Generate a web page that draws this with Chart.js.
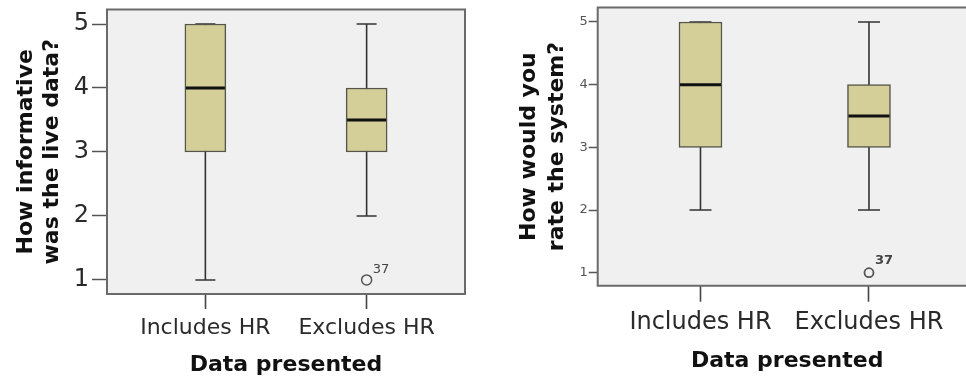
<!DOCTYPE html>
<html><head><meta charset="utf-8">
<script src="https://cdn.jsdelivr.net/npm/chart.js@4.4.1/dist/chart.umd.min.js"></script>
<style>
html,body{margin:0;padding:0;background:#fff;}
#wrap{position:relative;width:966px;height:379px;overflow:hidden;}
canvas{position:absolute;top:0;}
#c1{left:0;}
#c2{left:483px;}
</style></head><body>
<div id="wrap"><canvas id="c1" width="483" height="379"></canvas><canvas id="c2" width="500" height="379"></canvas></div>
<script>
// ---- data ----
const categories = ['Includes HR', 'Excludes HR'];
const categoryPositions = [1, 2];
const yTicks = [1, 2, 3, 4, 5];
const xTitle = 'Data presented';

// Left chart: "How informative was the live data?"
const informTitle = ['How informative', 'was the live data?'];
const informMin = [1, 2];
const informQ1 = [3, 3];
const informMedian = [4, 3.5];
const informQ3 = [5, 4];
const informMax = [5, 5];
const informOutlierCat = [2];
const informOutlierVal = [1];
const informOutlierCase = ['37'];

// Right chart: "How would you rate the system?"
const rateTitle = ['How would you', 'rate the system?'];
const rateMin = [2, 2];
const rateQ1 = [3, 3];
const rateMedian = [4, 3.5];
const rateQ3 = [5, 4];
const rateMax = [5, 5];
const rateOutlierCat = [2];
const rateOutlierVal = [1];
const rateOutlierCase = ['37'];

Chart.defaults.font.family = "'DejaVu Sans', Verdana, sans-serif";

const boxExtras = {
  id: 'boxExtras',
  beforeDraw(chart, args, o) {
    const {ctx, chartArea: a} = chart;
    ctx.save();
    ctx.fillStyle = o.plotBg;
    ctx.fillRect(a.left, a.top, a.right - a.left + (o.openRight ? 2 : 0), a.bottom - a.top);
    ctx.restore();
  },
  beforeDatasetsDraw(chart, args, o) {
    const {ctx} = chart;
    const xs = chart.scales.x, ys = chart.scales.y;
    ctx.save();
    ctx.strokeStyle = o.whiskerColor;
    ctx.lineWidth = o.whiskerWidth;
    o.positions.forEach((p, i) => {
      const x = xs.getPixelForValue(p);
      const y0 = ys.getPixelForValue(o.min[i]);
      const y1 = ys.getPixelForValue(o.max[i]);
      ctx.beginPath();
      ctx.moveTo(x, y0); ctx.lineTo(x, y1);
      ctx.moveTo(x - o.capHalf, y0); ctx.lineTo(x + o.capHalf, y0);
      ctx.moveTo(x - o.capHalf, y1); ctx.lineTo(x + o.capHalf, y1);
      ctx.stroke();
    });
    ctx.restore();
  },
  afterDatasetsDraw(chart, args, o) {
    const {ctx, chartArea: a} = chart;
    const xs = chart.scales.x, ys = chart.scales.y;
    ctx.save();
    // medians
    const meta = chart.getDatasetMeta(0);
    ctx.strokeStyle = o.medianColor;
    ctx.lineWidth = o.medianWidth;
    meta.data.forEach((bar, i) => {
      const {x, width} = bar.getProps(['x', 'width'], true);
      const y = ys.getPixelForValue(o.median[i]);
      ctx.beginPath();
      ctx.moveTo(x - width / 2 + 1, y); ctx.lineTo(x + width / 2 - 1, y);
      ctx.stroke();
    });
    // outlier case labels
    ctx.fillStyle = o.labelColor;
    ctx.font = o.labelFont;
    ctx.textAlign = 'left';
    ctx.textBaseline = 'alphabetic';
    o.outX.forEach((c, i) => {
      const x = xs.getPixelForValue(c);
      const y = ys.getPixelForValue(o.outY[i]);
      ctx.fillText(o.outLabel[i], x + o.labelDx, y - o.labelDy);
    });
    // plot frame
    ctx.strokeStyle = o.frameColor;
    ctx.lineWidth = o.frameWidth;
    ctx.beginPath();
    if (o.openRight) {
      ctx.moveTo(a.right + 2, a.top); ctx.lineTo(a.left, a.top);
      ctx.lineTo(a.left, a.bottom); ctx.lineTo(a.right + 2, a.bottom);
    } else {
      ctx.rect(a.left, a.top, a.right - a.left, a.bottom - a.top);
    }
    ctx.stroke();
    ctx.restore();
  }
};

function makeChart(id, c) {
  return new Chart(document.getElementById(id), {
    type: 'bar',
    data: {
      datasets: [
        {
          type: 'bar',
          data: categoryPositions.map((p, i) => ({x: p, y: [c.q1[i], c.q3[i]]})),
          backgroundColor: '#d4cf98',
          borderColor: '#55554a',
          borderWidth: 1.5,
          borderSkipped: false,
          barThickness: c.boxWidth,
          grouped: false
        },
        {
          type: 'scatter',
          data: c.outX.map((x, i) => ({x: x, y: c.outY[i]})),
          pointStyle: 'circle',
          pointRadius: c.outR,
          borderColor: '#555',
          backgroundColor: 'rgba(0,0,0,0)',
          borderWidth: c.outW
        }
      ]
    },
    options: {
      responsive: false,
      animation: false,
      events: [],
      layout: {padding: {top: c.padTop, right: c.padRight, left: 0, bottom: 0}},
      plugins: {
        legend: {display: false},
        tooltip: {enabled: false},
        boxExtras: {
          plotBg: '#f0f0f0', openRight: c.openRight,
          whiskerColor: '#333', whiskerWidth: 1.6, capHalf: c.capHalf,
          medianColor: '#111', medianWidth: 3,
          positions: categoryPositions, min: c.min, max: c.max, median: c.median,
          outX: c.outX, outY: c.outY, outLabel: c.outLabel,
          labelColor: '#444', labelFont: c.labelFont, labelDx: c.labelDx, labelDy: c.labelDy,
          frameColor: '#6a6a6a', frameWidth: 2
        }
      },
      scales: {
        x: {
          type: 'linear', min: c.xMin, max: c.xMax, offset: false,
          grid: {display: true, drawOnChartArea: false, drawTicks: true, tickLength: c.xTickLen, tickColor: '#444', tickWidth: 1.6, offset: false},
          border: {display: false},
          afterBuildTicks: s => { s.ticks = categoryPositions.map(v => ({value: v})); },
          afterFit: s => { s.height = c.xAxisH; s.paddingLeft = 0; s.paddingRight = 0; },
          ticks: {
            callback: (v, i) => categories[i],
            autoSkip: false, maxRotation: 0, minRotation: 0,
            padding: c.xLabelPad, color: '#2a2a2a', font: {size: c.xLabelSize}
          },
          title: {display: true, text: xTitle, color: '#111', font: {size: 22, weight: 'bold'}, padding: {top: 0, bottom: c.xTitlePad}}
        },
        y: {
          type: 'linear', min: c.yMin, max: c.yMax,
          grid: {display: true, drawOnChartArea: false, drawTicks: true, tickLength: c.yTickLen, tickColor: '#555', tickWidth: 1.5},
          border: {display: false},
          afterBuildTicks: s => { s.ticks = yTicks.map(v => ({value: v})); },
          afterFit: s => { s.width = c.yAxisW; s.paddingTop = 0; s.paddingBottom = 0; },
          ticks: {padding: c.yLabelPad, color: c.yLabelColor, font: {size: c.yLabelSize}},
          title: {display: true, text: c.title, color: '#111', font: {size: 22, weight: 'bold', lineHeight: c.titleLH}, padding: {top: c.yTitlePad, bottom: 0}}
        }
      }
    },
    plugins: [boxExtras]
  });
}

makeChart('c1', {
  min: informMin, q1: informQ1, median: informMedian, q3: informQ3, max: informMax,
  outX: informOutlierCat, outY: informOutlierVal, outLabel: informOutlierCase,
  title: informTitle,
  padTop: 9.5, padRight: 18, openRight: false,
  xMin: 0.39, xMax: 2.61, yMin: 0.78, yMax: 5.227,
  xAxisH: 85, yAxisW: 107,
  boxWidth: 41, capHalf: 10, outR: 5, outW: 1.5,
  labelFont: '13px "DejaVu Sans"', labelDx: 6, labelDy: 6.7,
  xTickLen: 15, xLabelPad: 6, xLabelSize: 22, xTitlePad: 1,
  yTickLen: 15, yLabelPad: 3, yLabelSize: 24, yLabelColor: '#2a2a2a',
  titleLH: 1.2, yTitlePad: 13
});

const rateXMin = 0.39;
const rateUnitPx = 168.5; // horizontal scale of the right panel (px per category step)
const ch2 = makeChart('c2', {
  min: rateMin, q1: rateQ1, median: rateMedian, q3: rateQ3, max: rateMax,
  outX: rateOutlierCat, outY: rateOutlierVal, outLabel: rateOutlierCase,
  title: rateTitle,
  padTop: 7.5, padRight: 0, openRight: true,
  xMin: rateXMin, xMax: 2.67, yMin: 0.7926, yMax: 5.231,
  xAxisH: 93.3, yAxisW: 114.7,
  boxWidth: 43, capHalf: 11, outR: 4.5, outW: 1.8,
  labelFont: 'bold 13px "DejaVu Sans"', labelDx: 6, labelDy: 8.8,
  xTickLen: 16, xLabelPad: 7, xLabelSize: 24, xTitlePad: 4.5,
  yTickLen: 9, yLabelPad: 1, yLabelSize: 13, yLabelColor: '#555',
  titleLH: 1.3, yTitlePad: 31.7
});
// keep the px-per-step of the right panel, its frame runs off the right edge (cropped original)
const a2 = ch2.chartArea;
ch2.options.scales.x.max = rateXMin + (a2.right - a2.left) / rateUnitPx;
ch2.update();
</script>
</body></html>
